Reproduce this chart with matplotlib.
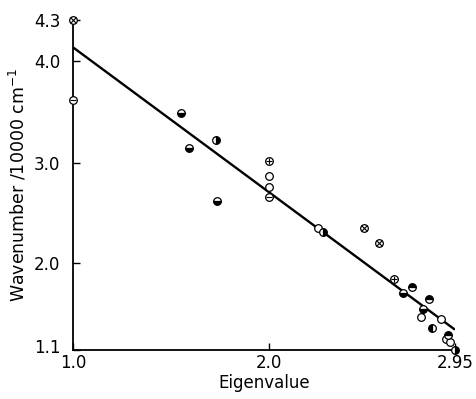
import numpy as np
import matplotlib
matplotlib.use("Agg")
import matplotlib.pyplot as plt
from matplotlib.transforms import ScaledTranslation

# ---- data (Eigenvalue, Wavenumber/10000 cm-1) ----
open_x = [2.0, 2.0, 2.251, 2.776, 2.879, 2.904, 2.924]
open_y = [2.87, 2.76, 2.35, 1.44, 1.42, 1.21, 1.18]

minus_x = [1.0, 2.0]
minus_y = [3.62, 2.66]

plus_x = [2.0, 2.639]
plus_y = [3.02, 1.83]

cross_x = [1.0, 2.485, 2.562]
cross_y = [4.3, 2.35, 2.20]

bottom_x = [1.55, 1.59, 1.735, 2.685, 2.787]
bottom_y = [3.49, 3.15, 2.62, 1.69, 1.52]

top_x = [2.730, 2.817, 2.914]
top_y = [1.75, 1.63, 1.26]

right_x = [1.73, 2.276, 2.95]
right_y = [3.23, 2.31, 1.10]

left_x = [2.833]
left_y = [1.33]

fit_x = [1.0, 2.95]
fit_y = [4.10, 1.31]

xticks = [1.0, 2.0, 2.95]
xticklabels = ["1.0", "2.0", "2.95"]
yticks = [1.1, 2.0, 3.0, 4.0, 4.3]
yticklabels = ["1.1", "2.0", "3.0", "4.0", "4.3"]

# axis breakpoints (the original axis is slightly non-uniform)
_bv = np.array([1.1, 2.0, 3.0, 4.0, 4.3])
_bp = np.array([0.0, 87.0, 187.0, 289.0, 330.0])


def _fwd(v):
    v = np.asarray(v, dtype=float)
    out = np.interp(v, _bv, _bp)
    lo = v < _bv[0]
    hi = v > _bv[-1]
    out = np.where(lo, _bp[0] + (v - _bv[0]) * (_bp[1] - _bp[0]) / (_bv[1] - _bv[0]), out)
    out = np.where(hi, _bp[-1] + (v - _bv[-1]) * (_bp[-1] - _bp[-2]) / (_bv[-1] - _bv[-2]), out)
    return out


def _inv(p):
    p = np.asarray(p, dtype=float)
    out = np.interp(p, _bp, _bv)
    lo = p < _bp[0]
    hi = p > _bp[-1]
    out = np.where(lo, _bv[0] + (p - _bp[0]) * (_bv[1] - _bv[0]) / (_bp[1] - _bp[0]), out)
    out = np.where(hi, _bv[-1] + (p - _bp[-1]) * (_bv[-1] - _bv[-2]) / (_bp[-1] - _bp[-2]), out)
    return out


plt.rcParams['font.family'] = ['DejaVu Sans']

fig = plt.figure(figsize=(4.76, 3.99), dpi=100)
ax = fig.add_axes([73 / 476, 49 / 399, (455 - 73) / 476, 330 / 399])
ax.set_yscale('function', functions=(_fwd, _inv))
ax.set_xlim(1.0, 2.95)
ax.set_ylim(1.1, 4.3)

ax.plot(fit_x, fit_y, color='black', lw=1.7, zorder=2, solid_capstyle='butt')

ms = 5.5
mew = 0.9
common = dict(linestyle='none', markersize=ms, markeredgewidth=mew,
              markeredgecolor='black', clip_on=False, zorder=3)

ax.plot(open_x, open_y, marker='o', markerfacecolor='white', **common)
for xs, ys, sym in [(minus_x, minus_y, '_'), (plus_x, plus_y, '+'), (cross_x, cross_y, 'x')]:
    ax.plot(xs, ys, marker='o', markerfacecolor='white', **common)
    ax.plot(xs, ys, marker=sym, linestyle='none', markersize=ms * 0.8,
            markeredgewidth=0.8, color='black', clip_on=False, zorder=4)
for xs, ys, fs in [(bottom_x, bottom_y, 'bottom'), (top_x, top_y, 'top'),
                   (right_x, right_y, 'right'), (left_x, left_y, 'left')]:
    ax.plot(xs, ys, marker='o', fillstyle=fs, markerfacecolor='black',
            markerfacecoloralt='white', **common)

for s in ['top', 'right']:
    ax.spines[s].set_visible(False)
for s in ['left', 'bottom']:
    ax.spines[s].set_linewidth(1.3)

ax.set_xticks(xticks)
ax.set_xticklabels(xticklabels)
ax.set_yticks(yticks)
ax.set_yticklabels(yticklabels)
ax.minorticks_off()
ax.tick_params(direction='in', length=5, width=1.0, labelsize=12)
ax.tick_params(axis='y', pad=9)
ax.tick_params(axis='x', pad=3)

# lift the lowest y label slightly so it clears the "1.0" x label
lab = ax.get_yticklabels()[0]
lab.set_transform(lab.get_transform() + ScaledTranslation(0, 3 / 72, fig.dpi_scale_trans))

ax.set_xlabel('Eigenvalue', fontsize=12, labelpad=1)
ax.set_ylabel('Wavenumber /10000 cm$^{-1}$', fontsize=12.5, labelpad=4)

fig.savefig('out.png', dpi=100)
